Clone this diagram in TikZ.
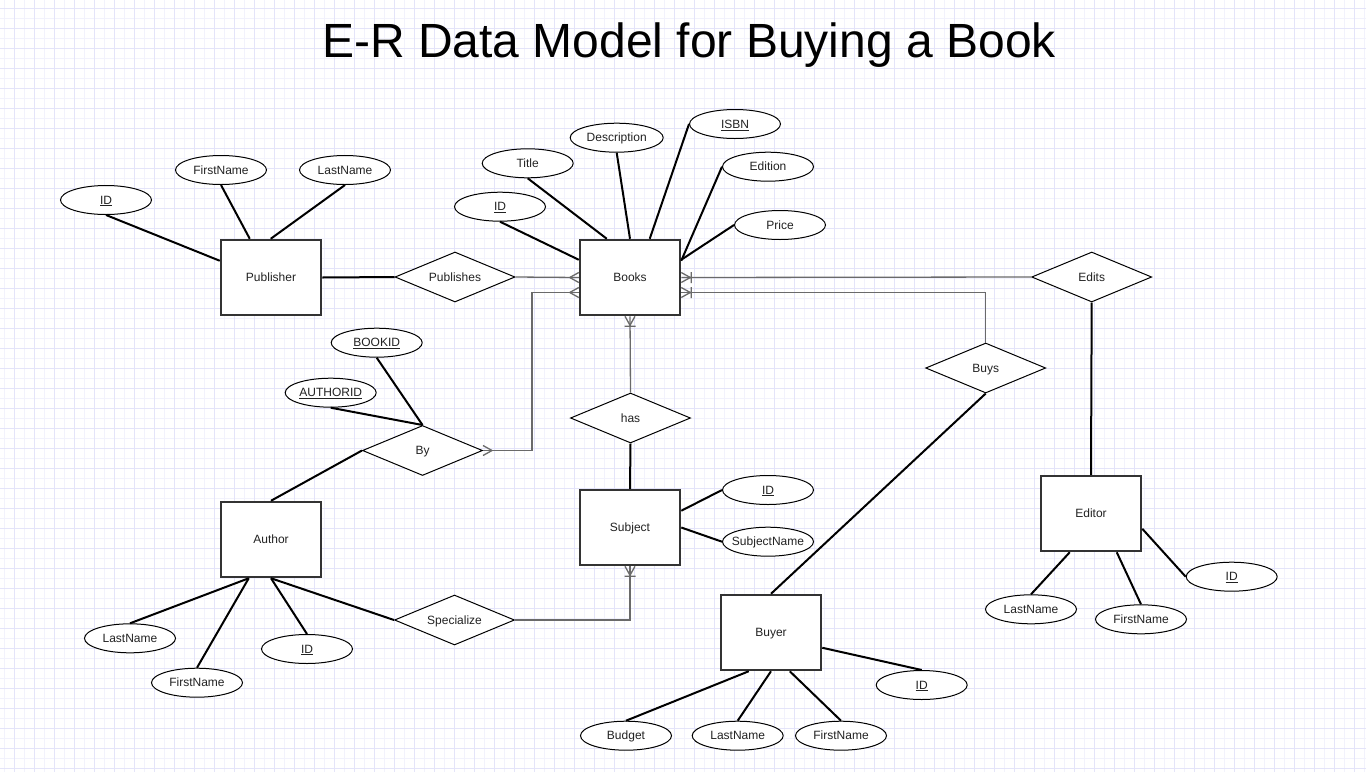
\documentclass[tikz,border=0pt]{standalone}
\usepackage{fontspec}
\setmainfont{Liberation Sans}
\usetikzlibrary{shapes.geometric,calc}
\definecolor{gridminor}{HTML}{F2F2FC}
\definecolor{gridmajor}{HTML}{E4E4F9}
\definecolor{relgray}{HTML}{6A6A6A}
\definecolor{txt}{HTML}{222222}
\tikzset{
 entity/.style={draw=black!80, line width=2.5pt, fill=white, minimum width=100pt, minimum height=75pt, inner sep=0pt, font=\fontsize{12}{14}\selectfont, text=txt, text height=10.9pt, text depth=2.5pt},
 attrib/.style={ellipse, draw=black, line width=1pt, fill=white, minimum width=91pt, minimum height=29pt, inner sep=0pt},
 reln/.style={diamond, draw=black, line width=1pt, fill=white, minimum width=120pt, minimum height=50pt, inner sep=0pt},
 lbl/.style={font=\fontsize{12}{14}\selectfont, text=txt, inner sep=0pt, text height=10.9pt, text depth=2.5pt},
 attrline/.style={draw=black, line width=2pt},
 relline/.style={draw=relgray, line width=1.3pt},
 many/.pic={\draw[relline] (-9,0) -- (0,5) (-9,0) -- (0,-5);},
 onemany/.pic={\draw[relline] (-9,0) -- (0,5) (-9,0) -- (0,-5) (-10,-5.5) -- (-10,5.5);},
}
\begin{document}
\begin{tikzpicture}[x=1pt,y=-1pt]
\useasboundingbox (0,0) rectangle (1366,772);
\fill[white] (0,0) rectangle (1366,772);
% grid
\foreach \k in {0,...,136} {\draw[gridminor, line width=1pt] (4.3+10*\k,0) -- (4.3+10*\k,772);}
\foreach \k in {0,...,77} {\draw[gridminor, line width=1pt] (0,8.3+10*\k) -- (1366,8.3+10*\k);}
\foreach \k in {0,...,67} {\draw[gridmajor, line width=1pt] (14.3+20*\k,0) -- (14.3+20*\k,772);}
\foreach \k in {0,...,38} {\draw[gridmajor, line width=1pt] (0,8.3+20*\k) -- (1366,8.3+20*\k);}

% title
\node[anchor=base, font=\fontsize{48}{56}\selectfont, text=black, inner sep=0pt] (title) at (689,57) {E-R Data Model for Buying a Book};

% entities
\node[entity] (pub) at (271,277.5) {Publisher};
\node[entity] (books) at (630,277.5) {Books};
\node[entity] (author) at (271,539.5) {Author};
\node[entity] (subject) at (630,527.5) {Subject};
\node[entity] (buyer) at (771,632.5) {Buyer};
\node[entity] (editor) at (1091,513.5) {Editor};

% relationships
\node[reln, label={[lbl]center:Publishes}] (publishes) at (455,277) {};
\node[reln, label={[lbl]center:Edits}] (edits) at (1091.7,277) {};
\node[reln, label={[lbl]center:Buys}] (buys) at (985.7,368) {};
\node[reln, label={[lbl]center:has}] (has) at (630.5,418) {};
\node[reln, label={[lbl]center:By}] (by) at (422.5,450.5) {};
\node[reln, label={[lbl]center:Specialize}] (specialize) at (454.5,620) {};

% attributes
\node[attrib, label={[lbl]center:\underline{ID}}] (pubID) at (106,200) {};
\node[attrib, label={[lbl]center:FirstName}] (pubFN) at (221,170) {};
\node[attrib, label={[lbl]center:LastName}] (pubLN) at (345,170) {};

\node[attrib, label={[lbl]center:\underline{ID}}] (booksID) at (500,206.7) {};
\node[attrib, label={[lbl]center:Title}] (title2) at (527.7,163.3) {};
\node[attrib, minimum width=93pt, label={[lbl]center:Description}] (desc) at (616.7,137.7) {};
\node[attrib, label={[lbl]center:\underline{ISBN}}] (isbn) at (735,124) {};
\node[attrib, label={[lbl]center:Edition}] (edition) at (768,166.7) {};
\node[attrib, label={[lbl]center:Price}] (price) at (780,225) {};

\node[attrib, label={[lbl]center:\underline{BOOKID}}] (bookid) at (376.7,342.7) {};
\node[attrib, label={[lbl]center:\underline{AUTHORID}}] (authorid) at (330.7,392.7) {};

\node[attrib, label={[lbl]center:LastName}] (aLN) at (130,638.3) {};
\node[attrib, label={[lbl]center:FirstName}] (aFN) at (197,682.7) {};
\node[attrib, label={[lbl]center:\underline{ID}}] (aID) at (307,649) {};

\node[attrib, label={[lbl]center:\underline{ID}}] (sID) at (768,490) {};
\node[attrib, label={[lbl]center:SubjectName}] (sName) at (768,541.7) {};

\node[attrib, label={[lbl]center:\underline{ID}}] (bID) at (921.7,685) {};
\node[attrib, label={[lbl]center:Budget}] (budget) at (626,735.7) {};
\node[attrib, label={[lbl]center:LastName}] (bLN) at (737.7,735.7) {};
\node[attrib, label={[lbl]center:FirstName}] (bFN) at (841,735.7) {};

\node[attrib, label={[lbl]center:LastName}] (eLN) at (1031,609.3) {};
\node[attrib, label={[lbl]center:FirstName}] (eFN) at (1141,619.3) {};
\node[attrib, label={[lbl]center:\underline{ID}}] (eID) at (1231.7,576.7) {};

% attribute connectors
\draw[attrline] (pubID.south) -- ($(pub.north west)+(0,22)$);
\draw[attrline] (pubFN.south) -- ($(pub.north west)+(30,0)$);
\draw[attrline] (pubLN.south) -- ($(pub.north west)+(51,0)$);

\draw[attrline] (booksID.south) -- ($(books.north west)+(0,21)$);
\draw[attrline] (title2.south) -- ($(books.north west)+(28,0)$);
\draw[attrline] (desc.south) -- (books.north);
\draw[attrline] (isbn.west) -- ($(books.north west)+(71,0)$);
\draw[attrline] (edition.west) -- ($(books.north east)+(0,22)$);
\draw[attrline] (price.west) -- ($(books.north east)+(0,21)$);

\draw[attrline] (bookid.south) -- (by.north);
\draw[attrline] (authorid.south) -- (by.north);

\draw[attrline] (aLN.north) -- ($(author.south west)+(29,0)$);
\draw[attrline] (aFN.north) -- ($(author.south west)+(29,0)$);
\draw[attrline] (aID.north) -- (author.south);

\draw[attrline] (sID.west) -- ($(subject.north east)+(0,22)$);
\draw[attrline] (sName.west) -- (subject.east);

\draw[attrline] (bID.north) -- ($(buyer.north east)+(0,54)$);
\draw[attrline] (budget.north) -- ($(buyer.south west)+(29,0)$);
\draw[attrline] (bLN.north) -- (buyer.south);
\draw[attrline] (bFN.north) -- ($(buyer.south west)+(70,0)$);

\draw[attrline] (eLN.north) -- ($(editor.south west)+(30,0)$);
\draw[attrline] (eFN.north) -- ($(editor.south west)+(77,0)$);
\draw[attrline] (eID.west) -- ($(editor.north east)+(0,54)$);

% relationship connectors (thick)
\draw[attrline] (pub.east) -- (publishes.west);
\draw[attrline] (has.south) -- (subject.north);
\draw[attrline] (author.north) -- (by.west);
\draw[attrline] (author.south) -- (specialize.west);
\draw[attrline] (buys.south) -- (buyer.north);
\draw[attrline] (edits.south) -- (editor.north);

% relationship connectors (thin, with cardinality)
\draw[relline] (publishes.east) -- (books.west);
\pic at (books.west) {many};

\coordinate (bl2) at ($(books.west)+(0,15)$);
\draw[relline] (bl2) -| ($(by.east)+(49,0)$) -- (by.east);
\pic at (bl2) {many};
\pic[rotate=180] at (by.east) {many};

\draw[relline] (books.east) -- (edits.west);
\pic[rotate=180] at (books.east) {onemany};

\coordinate (br2) at ($(books.east)+(0,15)$);
\draw[relline] (br2) -| (buys.north);
\pic[rotate=180] at (br2) {onemany};

\draw[relline] (books.south) -- (has.north);
\pic[rotate=90] at (books.south) {onemany};

\draw[relline] (subject.south) |- (specialize.east);
\pic[rotate=90] at (subject.south) {onemany};
\end{tikzpicture}
\end{document}
